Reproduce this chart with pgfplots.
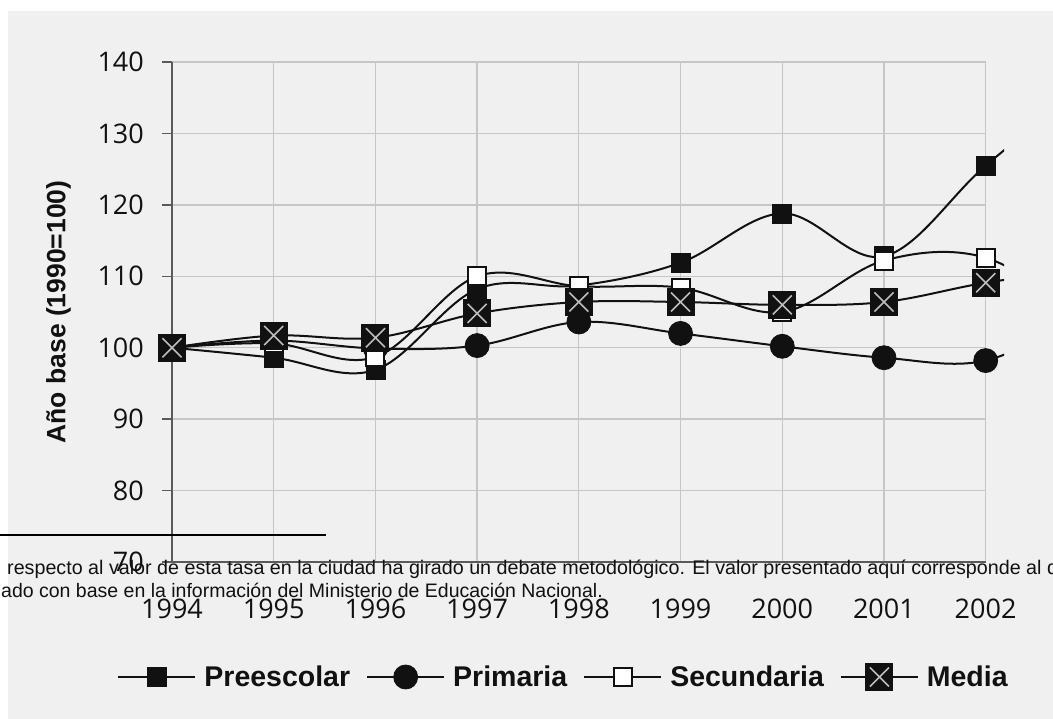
\documentclass[border=0pt]{standalone}
\usepackage{fontspec}
\setmainfont{Liberation Sans}
\newfontfamily\ticksfont{Open Sans}
\usepackage{pgfplots}
\pgfplotsset{compat=1.18}

\definecolor{panel}{HTML}{F0F0F0}
\definecolor{gridgray}{HTML}{C6C6C6}
\definecolor{axisgray}{HTML}{5A5A5A}
\definecolor{ink}{HTML}{111111}
\definecolor{crossgray}{HTML}{BDBDBD}

% black box with a light cross, used for "Media"
\pgfdeclareplotmark{boxcross}{%
  \pgfpathrectangle{\pgfpoint{-\pgfplotmarksize}{-\pgfplotmarksize}}{\pgfpoint{2\pgfplotmarksize}{2\pgfplotmarksize}}%
  \pgfusepathqfill
  \pgfsetstrokecolor{crossgray}%
  \pgfsetlinewidth{1.6bp}%
  \pgfpathmoveto{\pgfpoint{-0.68\pgfplotmarksize}{-0.68\pgfplotmarksize}}%
  \pgfpathlineto{\pgfpoint{0.68\pgfplotmarksize}{0.68\pgfplotmarksize}}%
  \pgfpathmoveto{\pgfpoint{-0.68\pgfplotmarksize}{0.68\pgfplotmarksize}}%
  \pgfpathlineto{\pgfpoint{0.68\pgfplotmarksize}{-0.68\pgfplotmarksize}}%
  \pgfusepathqstroke
}

\begin{document}
\begin{tikzpicture}
\useasboundingbox (0,0) rectangle (1053bp,719bp);
\fill[panel] (8bp,0) rectangle (1053bp,708bp);
\begin{axis}[
  at={(172bp,157bp)}, anchor=south west, scale only axis,
  width=832bp, height=500bp,
  xmin=1994, xmax=2002.18, ymin=70, ymax=140,
  xtick={1994,...,2002}, ytick={70,80,...,140},
  clip mode=individual,
  axis line style={draw=none},
  xmajorgrids=true,
  grid style={draw=gridgray, line width=1.4bp},
  tick align=outside,
  xtick style={draw=none},
  ytick pos=left, xtick pos=bottom,
  ytick style={draw=axisgray, line width=1.3bp},
  major tick length=10bp,
  /pgf/number format/assume math mode=true,
  /pgf/number format/1000 sep={},
  ticklabel style={font=\ticksfont\fontsize{27bp}{30bp}\selectfont, text=ink, inner sep=0pt},
  xticklabel style={anchor=north, yshift=-27bp},
  yticklabel style={anchor=east, xshift=-18bp},
  ylabel={Año base (1990=100)},
  ylabel style={at={(axis description cs:-0.1364,0.5)}, anchor=center, rotate=0,
    font=\bfseries\fontsize{26.5bp}{30bp}\selectfont, text=ink, inner sep=0pt},
  every axis plot/.append style={draw=ink, line width=2bp, smooth, tension=0.6,
    mark indices={1,...,9}},
  legend columns=4,
  legend style={at={(0.4694,-0.23)}, anchor=center, draw=none, fill=none,
    inner sep=0pt, font=\bfseries\fontsize{28.5bp}{32bp}\selectfont, text=ink,
    nodes={inner sep=0pt},
    /tikz/every odd column/.append style={column sep=8bp},
    /tikz/every even column/.append style={column sep=16bp}},
  legend image code/.code={%
    \draw[#1, mark indices={2}] plot coordinates {(0bp,0bp) (38.5bp,0bp) (77bp,0bp)};},
]
% horizontal grid and the two axis lines, limited to 1994--2002
\foreach \yy in {80,90,...,140}{
  \edef\tmp{\noexpand\draw[gridgray, line width=1.4bp] (axis cs:1994,\yy) -- (axis cs:2002,\yy);}\tmp
}
\draw[axisgray, line width=1.5bp] (axis cs:1994,70) -- (axis cs:1994,140);
\draw[axisgray, line width=1.5bp] (axis cs:1994,70) -- (axis cs:2002,70);

\addplot[mark=square*, mark size=9.5bp, mark options={fill=ink, draw=ink, line width=0.8bp}]
  coordinates {(1994,100) (1995,98.6) (1996,96.9) (1997,108.2) (1998,108.7)
               (1999,111.9) (2000,118.8) (2001,112.8) (2002,125.5) (2003,137)};
\addlegendentry{Preescolar}
\addplot[mark=*, mark size=12bp, mark options={fill=ink, draw=ink, line width=0.8bp}]
  coordinates {(1994,100) (1995,101.0) (1996,99.9) (1997,100.3) (1998,103.6)
               (1999,102.0) (2000,100.2) (2001,98.6) (2002,98.2) (2003,105)};
\addlegendentry{Primaria}
\addplot[mark=square*, mark size=9bp, mark options={fill=white, draw=ink, line width=2bp}]
  coordinates {(1994,100) (1995,100.6) (1996,98.7) (1997,110.0) (1998,108.6)
               (1999,108.4) (2000,105.0) (2001,112.2) (2002,112.6) (2003,104)};
\addlegendentry{Secundaria}
\addplot[mark=boxcross, mark size=14bp, mark options={fill=ink}]
  coordinates {(1994,100) (1995,101.7) (1996,101.4) (1997,104.8) (1998,106.4)
               (1999,106.4) (2000,106.0) (2001,106.4) (2002,109.1) (2003,111)};
\addlegendentry{Media}
\end{axis}
% footnote rule and text
\draw[black, line width=1.5bp] (0,184bp) -- (326bp,184bp);
\node[anchor=base west, inner sep=0pt, text=ink, font=\fontsize{19.7bp}{23bp}\selectfont]
  at (7bp,144bp) {respecto al valor de esta tasa en la ciudad ha girado un debate metodológico. El valor presentado aquí corresponde al de};
\node[anchor=base west, inner sep=0pt, text=ink, font=\fontsize{19.5bp}{23bp}\selectfont]
  at (1bp,121bp) {ado con base en la información del Ministerio de Educación Nacional.};
\end{tikzpicture}
\end{document}
